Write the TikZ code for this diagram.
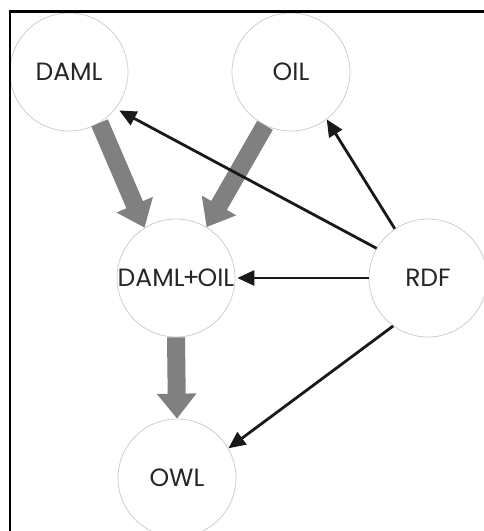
\documentclass[tikz,border=0pt]{standalone}
\usepackage{fontspec}
\setmainfont{Poppins}
\usetikzlibrary{arrows.meta}

\definecolor{kreisgrau}{RGB}{200,200,200}
\definecolor{pfeilgrau}{RGB}{128,128,128}

\tikzset{
  kreis/.style={circle, draw=kreisgrau, line width=0.7pt, minimum size=118pt,
    inner sep=0pt, text=black!85, font=\fontsize{25}{25}\selectfont},
  erbe/.style={draw=pfeilgrau, line width=18pt, -{Triangle[length=25pt,width=38pt]}},
  rdfpfeil/.style={draw=black!90, line width=2.8pt, -{Triangle[length=17pt,width=15pt]}}
}

\begin{document}
\begin{tikzpicture}[x=1pt, y=-1pt]
    \useasboundingbox (0,0) rectangle (484,531);

    % Kreise der Sprachen
    \node[kreis] (daml)   at (69,72)   {DAML};
    \node[kreis] (oil)    at (291,72)  {OIL};
    \node[kreis] (dmloil) at (176,278) {DAML\kern-2pt+\kern-2pt OIL};
    \node[kreis] (rdf)    at (428,278) {RDF};
    \node[kreis] (owl)    at (177,478) {OWL};

    % Dicke graue Pfeile (Nachfolger)
    \draw[erbe] (daml.-59) -- (dmloil.122);
    \draw[erbe] (oil.-116) -- (dmloil.59);
    \draw[erbe] (dmloil.south) -- (owl.north);

    % Schwarze Pfeile von RDF aus
    \draw[rdfpfeil, shorten >=4pt] (rdf.150) -- (daml.-38);
    \draw[rdfpfeil] (rdf.124) -- (oil.-53);
    \draw[rdfpfeil, shorten >=2pt] (rdf.west) -- (dmloil.east);
    \draw[rdfpfeil] (rdf.-126) -- (owl.30);

    % Rahmen oben und links
    \draw[line width=3pt] (9,11.5) -- (484,11.5);
    \draw[line width=2pt] (10,11.5) -- (10,531);
\end{tikzpicture}
\end{document}
